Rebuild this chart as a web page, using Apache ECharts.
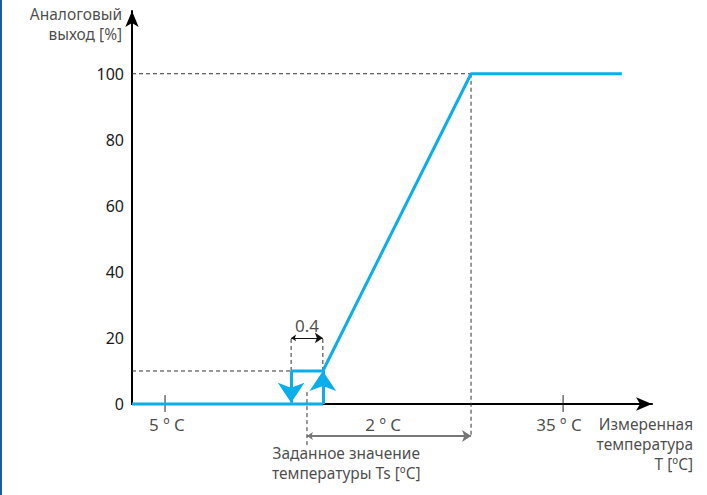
<!DOCTYPE html>
<html>
<head>
<meta charset="utf-8">
<script src="https://cdn.jsdelivr.net/npm/echarts@6/dist/echarts.min.js"></script>
<style>
html,body{margin:0;padding:0;background:#fff;}
#c{width:707px;height:495px;box-sizing:border-box;border-left:2px solid #1d5b94;}
</style>
</head>
<body>
<div id="c"></div>
<script>
// ---- data (abstract schematic units) ----
const yTicks = [0, 20, 40, 60, 80, 100];
const baseLine = [[0, 0], [36.7, 0]];
const rampLine = [[30.6, 10], [36.7, 10], [65.2, 100], [94.2, 100]];
const upArrow = [[36.7, 0], [36.7, 10]];
const downArrow = [[30.6, 10], [30.6, 0.4]];
const guideLines = [
  [[0, 100], [65.2, 100]],
  [[65.2, 100], [65.2, -10]],
  [[0, 10], [30.6, 10]],
  [[30.6, 10], [30.6, 20]],
  [[36.7, 10], [36.7, 20]],
  [[33.65, 3.6], [33.65, -13]]
];
const dimLines = [[[30.6, 20], [36.7, 20]]];
const dimLinesWide = [[[33.65, -9.7], [65.2, -9.7]]];
const tempTicks = [[6.35, 2.7, -2.4], [82.9, 2.7, -2.4]];
const tempLabels = [
  { x: 6.7, y: -6.1, text: '5 º C' },
  { x: 48.3, y: -6.1, text: '2 º C' },
  { x: 82.1, y: -6.1, text: '35 º C' },
  { x: 33.65, y: 23.9, text: '0.4' }
];
const sideLabels = [
  { x: 107.9, y: -3, text: 'Измеренная\nтемпература\nT [ºC]', align: 'right' },
  { x: 41.2, y: -11.8, text: 'Заданное значение\nтемпературы Ts [ºC]', align: 'center' },
  { x: -1.9, y: 121.2, text: 'Аналоговый\nвыход [%]', align: 'right' }
];

const FONT = 'Noto Sans';
const BLUE = '#0aaeea';
const TXT = '#1a1a1a';

const series = [];
guideLines.forEach(seg => series.push({
  type: 'line', data: seg, symbol: 'none', clip: false, silent: true,
  lineStyle: { color: '#333', width: 1, type: [4, 3] }, z: 1
}));
tempTicks.forEach(t => series.push({
  type: 'line', data: [[t[0], t[1]], [t[0], t[2]]], symbol: 'none', clip: false,
  lineStyle: { color: '#222', width: 1 }, z: 1
}));
series.push({
  type: 'lines', coordinateSystem: 'cartesian2d', clip: false,
  symbol: ['arrow', 'arrow'], symbolSize: [5, 8],
  lineStyle: { color: '#111', width: 1, opacity: 1, curveness: 0 },
  data: dimLines.map(c => ({ coords: c })), z: 2
});
series.push({
  type: 'lines', coordinateSystem: 'cartesian2d', clip: false,
  symbol: ['arrow', 'arrow'], symbolSize: [6, 9],
  lineStyle: { color: '#777', width: 2, opacity: 1, curveness: 0 },
  data: dimLinesWide.map(c => ({ coords: c })), z: 2
});
series.push({
  type: 'line', data: baseLine, symbol: 'none', clip: false,
  lineStyle: { color: BLUE, width: 3 }, z: 5
});
series.push({
  type: 'line', data: rampLine, symbol: 'none', clip: false,
  lineStyle: { color: BLUE, width: 3 }, z: 5
});
series.push({
  type: 'lines', coordinateSystem: 'cartesian2d', clip: false,
  symbol: ['none', 'arrow'], symbolSize: [10, 20],
  lineStyle: { color: BLUE, width: 3, opacity: 1, curveness: 0 },
  data: [{ coords: upArrow }, { coords: downArrow }], z: 6
});
series.push({
  type: 'scatter', symbolSize: 0, clip: false, silent: true,
  data: tempLabels.map(d => ({ value: [d.x, d.y], name: d.text })),
  label: { show: true, position: 'inside', formatter: p => p.name,
    fontFamily: FONT, fontSize: 17, color: TXT }
});
sideLabels.forEach(d => series.push({
  type: 'scatter', symbolSize: 0, clip: false, silent: true,
  data: [{ value: [d.x, d.y], name: d.text }],
  label: { show: true, position: 'inside', formatter: p => p.name,
    align: d.align, verticalAlign: 'top', lineHeight: 20,
    fontFamily: FONT, fontSize: 15.5, color: TXT }
}));

const chart = echarts.init(document.getElementById('c'), null, { renderer: 'svg' });
chart.setOption({
  animation: false,
  grid: { left: 130, right: 55, top: 11, bottom: 91, containLabel: false },
  xAxis: {
    type: 'value', min: 0, max: 100,
    axisLine: { show: true, onZero: true, symbol: ['none', 'arrow'], symbolSize: [10, 16],
      lineStyle: { color: '#000', width: 2 } },
    axisTick: { show: false }, axisLabel: { show: false }, splitLine: { show: false }
  },
  yAxis: {
    type: 'value', min: 0, max: 119, interval: 20,
    axisLine: { show: true, symbol: ['none', 'arrow'], symbolSize: [10, 16],
      lineStyle: { color: '#000', width: 2 } },
    axisTick: { show: false }, splitLine: { show: false },
    axisLabel: { margin: 8, fontFamily: FONT, fontSize: 16, color: TXT,
      formatter: v => (yTicks.indexOf(v) >= 0 ? String(v) : '') }
  },
  series: series
});
</script>
</body>
</html>
